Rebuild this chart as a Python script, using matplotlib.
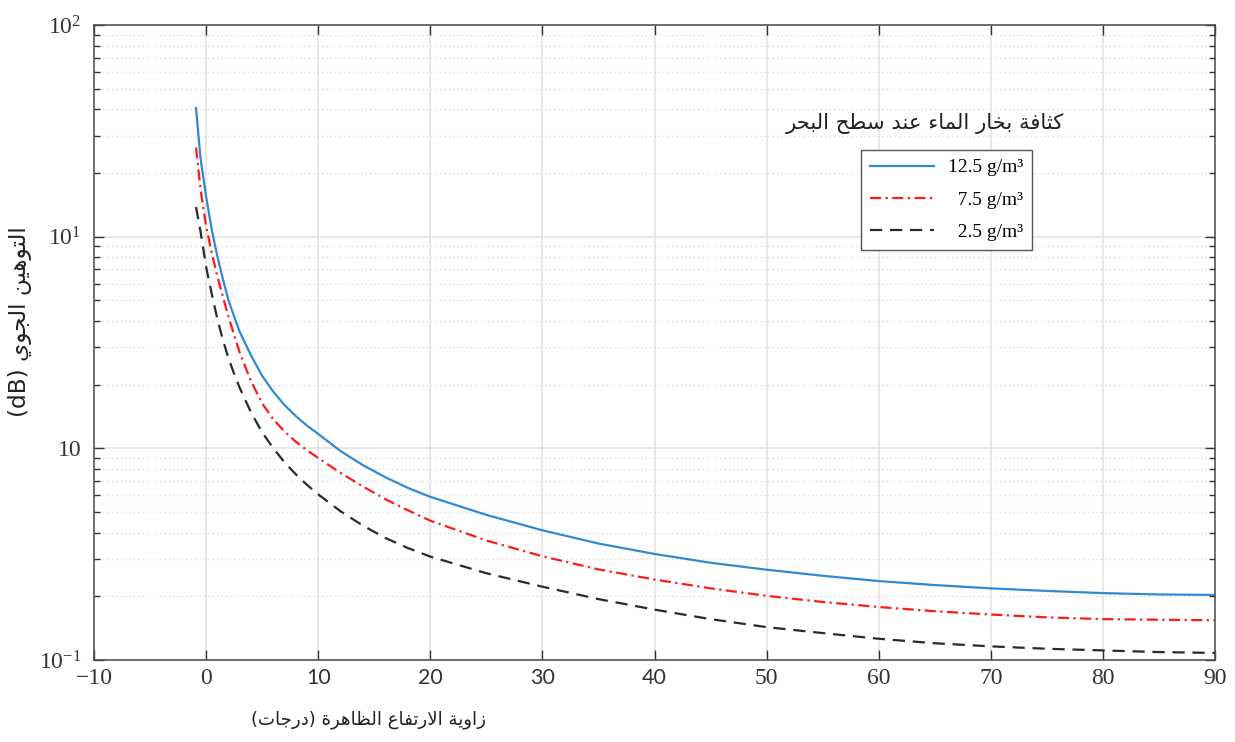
import re
import matplotlib
matplotlib.use("Agg")
import matplotlib.pyplot as plt
from matplotlib.ticker import LogLocator, NullLocator, NullFormatter

# ---------------- data ----------------
elevation_deg = [-0.9, -0.5, 0, 0.5, 1, 1.5, 2, 2.5, 3, 4, 5, 6, 7, 8, 9, 10,
                 12, 14, 16, 18, 20, 25, 30, 35, 40, 45, 50, 55, 60, 65, 70,
                 75, 80, 85, 90]
att_12_5 = [40.5, 23.5, 15.5, 10.8, 8.1, 6.3, 5.0, 4.2, 3.55, 2.75, 2.2, 1.85,
            1.6, 1.42, 1.28, 1.17, 0.97, 0.832, 0.73, 0.65, 0.59, 0.485, 0.41,
            0.355, 0.317, 0.288, 0.267, 0.25, 0.236, 0.226, 0.218, 0.212, 0.207,
            0.204, 0.203]
att_7_5 = [26.4, 16.8, 11.2, 8.4, 6.5, 5.2, 4.18, 3.43, 2.83, 2.08, 1.63, 1.37,
           1.2, 1.075, 0.98, 0.9, 0.765, 0.66, 0.575, 0.51, 0.455, 0.367, 0.309,
           0.268, 0.24, 0.218, 0.201, 0.188, 0.178, 0.17, 0.164, 0.159, 0.156,
           0.155, 0.154]
att_2_5 = [13.8, 10.6, 7.2, 5.38, 4.09, 3.25, 2.66, 2.25, 1.93, 1.48, 1.19, 1.0,
           0.858, 0.754, 0.672, 0.606, 0.504, 0.431, 0.377, 0.338, 0.308, 0.257,
           0.222, 0.194, 0.173, 0.156, 0.143, 0.134, 0.126, 0.12, 0.116, 0.113,
           0.111, 0.109, 0.108]
series_labels = ["12.5 g/m\u00b3", "  7.5 g/m\u00b3", "  2.5 g/m\u00b3"]

x_ticks = [-10, 0, 10, 20, 30, 40, 50, 60, 70, 80, 90]
x_tick_labels = ["\u221210", "0", "10", "20", "30", "40", "50", "60", "70", "80", "90"]
x_sans_labels = ["10", "20", "30", "40"]
y_ticks = [0.1, 1, 10, 100]
y_tick_labels = [r"$10^{-1}$", "10", r"$10^{1}$", r"$10^{2}$"]

legend_title = "كثافة بخار الماء عند سطح البحر"
x_label = "زاوية الارتفاع الظاهرة (درجات)"
y_label = "التوهين الجوي (dB)"

# ---------------- Arabic shaping (presentation forms) + simple RTL ordering ----------------
_AR4 = {'\u0626': 0xFE89, '\u0628': 0xFE8F, '\u062A': 0xFE95, '\u062B': 0xFE99,
        '\u062C': 0xFE9D, '\u062D': 0xFEA1, '\u062E': 0xFEA5, '\u0633': 0xFEB1,
        '\u0634': 0xFEB5, '\u0635': 0xFEB9, '\u0636': 0xFEBD, '\u0637': 0xFEC1,
        '\u0638': 0xFEC5, '\u0639': 0xFEC9, '\u063A': 0xFECD, '\u0641': 0xFED1,
        '\u0642': 0xFED5, '\u0643': 0xFED9, '\u0644': 0xFEDD, '\u0645': 0xFEE1,
        '\u0646': 0xFEE5, '\u0647': 0xFEE9, '\u064A': 0xFEF1}
_AR2 = {'\u0622': 0xFE81, '\u0623': 0xFE83, '\u0624': 0xFE85, '\u0625': 0xFE87,
        '\u0627': 0xFE8D, '\u0629': 0xFE93, '\u062F': 0xFEA9, '\u0630': 0xFEAB,
        '\u0631': 0xFEAD, '\u0632': 0xFEAF, '\u0648': 0xFEED, '\u0649': 0xFEEF}
_AR1 = {'\u0621': 0xFE80}
_LAMALEF = {'\u0622': 0xFEF5, '\u0623': 0xFEF7, '\u0625': 0xFEF9, '\u0627': 0xFEFB}
_MIRROR = {'(': ')', ')': '('}


def _joins_right(c):
    return c in _AR4 or c in _AR2


def _shape(s):
    out = []
    i = 0
    n = len(s)
    while i < n:
        c = s[i]
        prev_dual = i > 0 and s[i - 1] in _AR4
        if c == '\u0644' and i + 1 < n and s[i + 1] in _LAMALEF:
            base = _LAMALEF[s[i + 1]]
            out.append(chr(base + 1) if prev_dual else chr(base))
            i += 2
            continue
        if c in _AR4:
            nxt = i + 1 < n and _joins_right(s[i + 1])
            if prev_dual and nxt:
                g = chr(_AR4[c] + 3)
            elif prev_dual:
                g = chr(_AR4[c] + 1)
            elif nxt:
                g = chr(_AR4[c] + 2)
            else:
                g = chr(_AR4[c])
        elif c in _AR2:
            g = chr(_AR2[c] + 1) if prev_dual else chr(_AR2[c])
        elif c in _AR1:
            g = chr(_AR1[c])
        else:
            g = c
        out.append(g)
        i += 1
    return ''.join(out)


def rtl(s):
    shaped = _shape(s)
    runs = re.findall(r'[A-Za-z0-9]+|[^A-Za-z0-9]+', shaped)
    vis = []
    for r in reversed(runs):
        if re.match(r'[A-Za-z0-9]', r):
            vis.append(r)
        else:
            vis.append(''.join(_MIRROR.get(ch, ch) for ch in reversed(r)))
    return ''.join(vis)


# ---------------- figure ----------------
plt.rcParams['mathtext.fontset'] = 'custom'
plt.rcParams['mathtext.rm'] = 'Liberation Serif'
plt.rcParams['mathtext.it'] = 'Liberation Serif:italic'
plt.rcParams['mathtext.bf'] = 'Liberation Serif:bold'
plt.rcParams['mathtext.default'] = 'rm'
plt.rcParams['font.family'] = ['Liberation Serif', 'DejaVu Sans']

W, H = 1235, 742
fig = plt.figure(figsize=(W / 100, H / 100), dpi=100, facecolor='white')
ax = fig.add_axes([94 / W, 1 - 660 / H, (1215 - 94) / W, (660 - 25) / H])

ax.plot(elevation_deg, att_12_5, color='#2f8ad4', lw=1.6, ls='-', label=series_labels[0])
ax.plot(elevation_deg, att_7_5, color='#ff1a1a', lw=1.6, ls=(0, (5, 2, 1, 2)), label=series_labels[1])
ax.plot(elevation_deg, att_2_5, color='#2a2a2a', lw=1.6, ls=(0, (5.5, 3.5)), label=series_labels[2])

ax.set_yscale('log')
ax.set_xlim(-10, 90)
ax.set_ylim(0.1, 100)

ax.set_xticks(x_ticks)
ax.set_xticklabels(x_tick_labels)
ax.xaxis.set_minor_locator(NullLocator())
ax.set_yticks(y_ticks)
ax.set_yticklabels(y_tick_labels)
ax.yaxis.set_minor_locator(LogLocator(base=10, subs=range(2, 10), numticks=20))
ax.yaxis.set_minor_formatter(NullFormatter())

for lab in ax.get_xticklabels():
    if lab.get_text() in x_sans_labels:
        lab.set_fontfamily('Lato')
        lab.set_fontsize(15.5)
    else:
        lab.set_fontfamily('Liberation Serif')
        lab.set_fontsize(17)
for lab in ax.get_yticklabels():
    lab.set_fontfamily('Liberation Serif')
    lab.set_fontsize(17)

ax.tick_params(which='both', direction='in', top=True, right=True, colors='#333333')
ax.tick_params(which='major', length=7.5, width=1.0)
ax.tick_params(axis='y', which='major', pad=9)
ax.tick_params(axis='x', which='major', pad=6)
ax.tick_params(which='minor', length=4.5, width=1.0)

ax.set_axisbelow(True)
ax.grid(which='major', color='#e2e2e2', lw=1.1, ls='-')
ax.grid(which='minor', axis='y', color='#d6d6d6', lw=0.9, ls=(0, (1, 2.5)))
for sp in ax.spines.values():
    sp.set_color('#4a4a4a')
    sp.set_linewidth(1.1)

leg = ax.legend(loc='upper left', bbox_to_anchor=(861 / W, 1 - 150 / H),
                bbox_transform=fig.transFigure, frameon=True, fancybox=False,
                edgecolor='#555555', framealpha=1, borderaxespad=0, borderpad=0.45,
                handlelength=3.3, handletextpad=0.7, labelspacing=0.75,
                prop={'family': 'Liberation Serif', 'size': 14})
leg.get_frame().set_linewidth(1.0)

t_title = fig.text(925 / W, 1 - 124 / H, rtl(legend_title), ha='center', va='center',
                   fontsize=15, family=['DejaVu Sans'], color='#222222')
t_x = fig.text(368 / W, 1 - 720 / H, rtl(x_label), ha='center', va='center',
               fontsize=14, family=['DejaVu Sans'], color='#222222')
t_y = fig.text(20 / W, 1 - 322 / H, rtl(y_label), ha='center', va='center', rotation=90,
               fontsize=14, family=['DejaVu Sans'], color='#222222')

renderer = fig.canvas.get_renderer()
for t, target, dim in [(t_title, 280, 'w'), (t_x, 235, 'w'), (t_y, 192, 'h')]:
    bb = t.get_window_extent(renderer)
    cur = bb.width if dim == 'w' else bb.height
    t.set_fontsize(t.get_fontsize() * target / cur)

fig.savefig('out.png', dpi=100, facecolor='white')
